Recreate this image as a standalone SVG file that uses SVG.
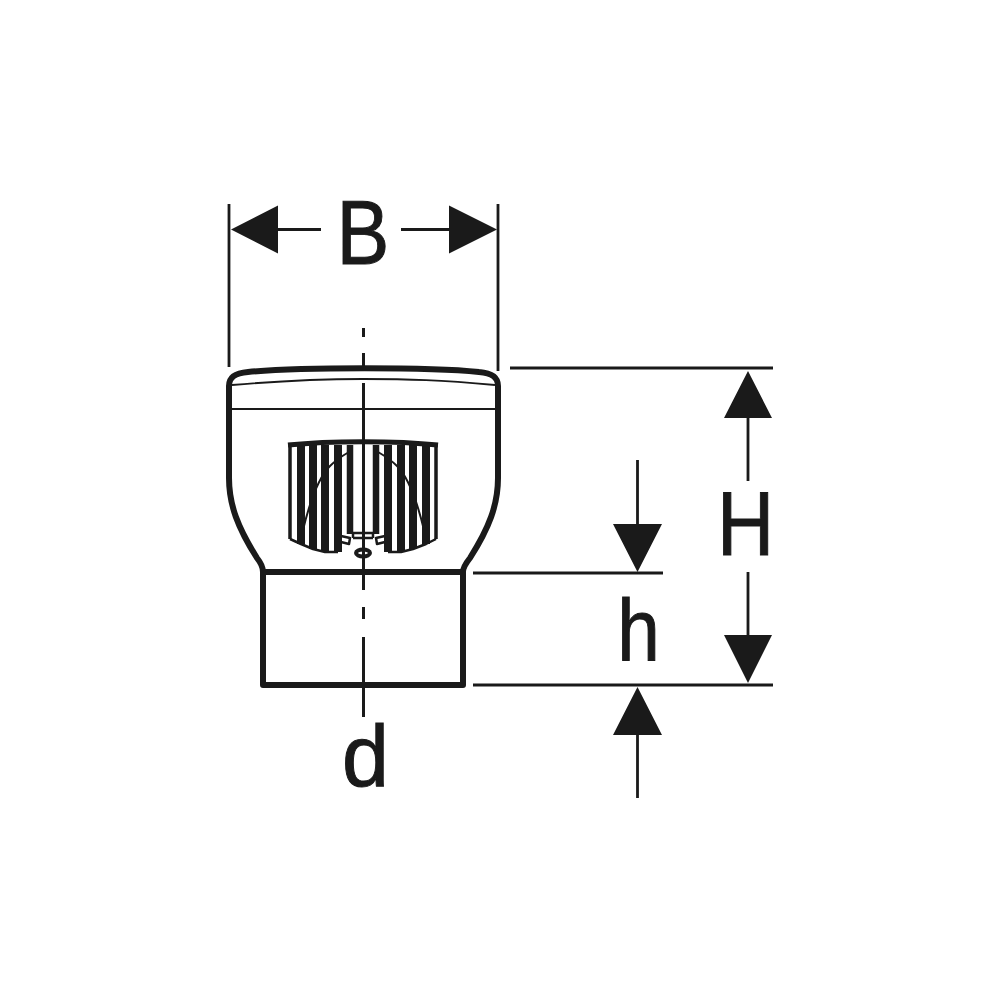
<svg xmlns="http://www.w3.org/2000/svg" width="1000" height="1000" viewBox="0 0 1000 1000">
<style>
.l{fill:none;stroke:#1a1a1a;stroke-linecap:butt;stroke-linejoin:round}
.a{fill:#1a1a1a;stroke:none}
.t{font-family:"Liberation Sans",Arial,sans-serif;fill:#1a1a1a;stroke:#1a1a1a;stroke-width:1;text-anchor:middle}
</style>
<rect width="1000" height="1000" fill="#fff"/>
<g id="body">
<path class="l" stroke-width="6" d="M229 386C229 377 235 373 248 372C300 367 430 367 479 372C492 373 498 377 498 386L498 478C498 505 489 528 470 558C466 563 463 567 463 572L463 685L263 685L263 572C263 567 261 563 257 558C238 528 229 505 229 478Z"/>
<path class="l" stroke-width="6" d="M263 572L463 572"/>
<path class="l" stroke-width="1.800" d="M232 385C290 380 320 379 363 379C410 379 440 380 495 385"/>
<path class="l" stroke-width="1.800" d="M231 409L496 409"/>
</g>
<g id="strainer">
<path class="l" stroke-width="2" d="M303 530C309 505 318 478 330 466C336 460 342 456 349 452M424 530C418 505 409 478 397 466C391 460 385 456 378 452"/>
<path class="l" stroke-width="3.500" d="M290 445V539M436 445V539"/>
<path class="l" stroke-width="8" d="M301 445V544M313 445V549M325 445V552M338 445V552M388 445V552M401 445V552M413 445V549M426 445V544"/>
<path class="l" stroke-width="6.500" d="M350 445V534M376 445V534"/>
<path class="l" stroke-width="2.500" d="M290 539L301 544L313 549L325 552H338M388 552H401L413 549L426 544L436 539M341 536L350 538L349 544L341 542M385 536L376 538L377 544L385 542M353 533H373M353 538H373M353 533V538M373 533V538"/>
<path class="l" stroke-width="5" d="M288 445C330 440.500 396 440.500 438 445"/>
<ellipse cx="363" cy="553" rx="7" ry="3.500" fill="#fff" stroke="#1a1a1a" stroke-width="4"/>
</g>
<g id="connectors">
<path class="l" stroke-width="3" d="M363.500 328V337M363.500 353V368M363.500 383V590M363.500 607V619M363.500 637V717"/>
<path class="l" stroke-width="2.800" d="M229 204V367M498 204V371M510 368H773M473 573H663M473 685H773"/>
<path class="l" stroke-width="2.800" d="M278 229.500H321M401 229.500H449M748 418V481M748 572V636M637.500 460V524M637.500 734V798"/>
<path class="a" d="M231 229.500L278 205.500V253.500ZM497 229.500L449 205.500V253.500ZM748 371L772 418H724ZM748 683L724 635H772ZM637.500 572L613 524H662ZM637.500 687L613 735H662Z"/>
</g>
<g id="labels">
<text class="t" transform="translate(363 263.500) scale(.88 1)" font-size="90">B</text>
<text class="t" transform="translate(745.500 554.500) scale(.88 1)" font-size="90">H</text>
<text class="t" transform="translate(638.500 659.500) scale(.88 1)" font-size="87">h</text>
<text class="t" transform="translate(365.500 786) scale(.97 1)" font-size="87">d</text>
</g>
</svg>
